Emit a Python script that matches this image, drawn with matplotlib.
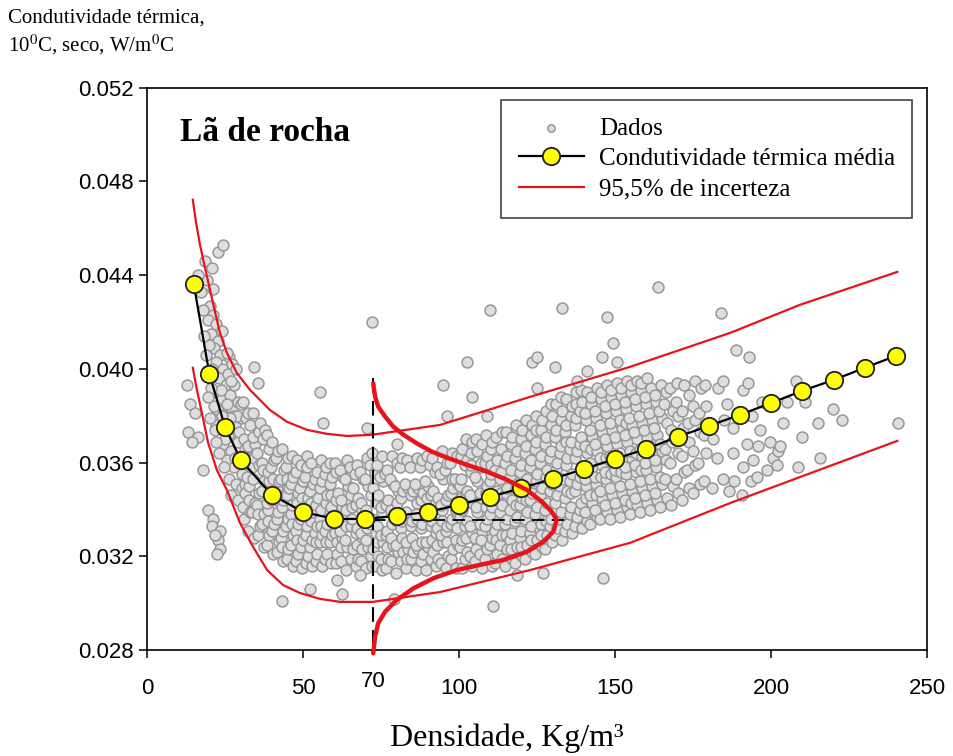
import numpy as np
import matplotlib.pyplot as plt

plt.rcParams['font.family'] = 'Liberation Serif'
plt.rcParams['mathtext.fontset'] = 'stix'

## valores de condutividade em mW/m C (divididos por 1000 no plot)
media_x = [15, 20, 25, 30, 40, 50, 60, 70, 80, 90, 100, 110, 120, 130, 140,
           150, 160, 170, 180, 190, 200, 210, 220, 230, 240]
media_y = [43.63, 39.79, 37.53, 36.12, 34.63, 33.90, 33.60, 33.60, 33.73, 33.90,
           34.20, 34.54, 34.92, 35.31, 35.73, 36.16, 36.59, 37.10, 37.57, 38.04,
           38.55, 39.07, 39.53, 40.05, 40.56]

## limites de 95,5% de incerteza
sup_x = [14.7, 15.7, 17.0, 18.6, 20.2, 21.8, 23.4, 25.6, 28.8, 33.0, 39.4, 44.9,
         51.3, 57.7, 64.1, 72.1, 93.9, 122.8, 154.8, 186.9, 209.3, 240.4]
sup_y = [47.22, 46.28, 45.30, 44.32, 43.38, 42.44, 41.54, 40.69, 39.83, 39.11,
         38.25, 37.74, 37.40, 37.23, 37.14, 37.19, 37.61, 38.81, 40.09, 41.54,
         42.74, 44.14]
inf_x = [14.7, 16.0, 17.6, 19.6, 22.4, 25.6, 29.8, 34.0, 38.5, 43.6, 49.0, 55.4,
         61.9, 72.4, 93.9, 122.8, 154.8, 186.9, 240.4]
inf_y = [40.05, 39.11, 38.13, 36.85, 35.69, 34.84, 33.43, 32.41, 31.42, 30.78,
         30.44, 30.19, 30.06, 30.06, 30.48, 31.42, 32.58, 34.28, 36.93]

## curva de distribuicao em 70 kg/m3 (lida ponto a ponto)
gauss_x = [72.5, 73.1, 74.1, 76.3, 78.9, 82.2, 86.4, 91.3, 96.6, 102.5, 108.9,
           115.3, 121.7, 126.5, 129.7, 131.3, 130.2, 127.0, 121.7, 114.2, 106.7,
           99.3, 91.8, 85.4, 80.0, 76.3, 74.1, 73.1, 72.5]
gauss_y = [39.39, 38.82, 38.39, 37.97, 37.54, 37.19, 36.83, 36.47, 36.19, 35.91,
           35.62, 35.27, 34.84, 34.34, 33.91, 33.56, 33.06, 32.63, 32.20, 31.85,
           31.64, 31.42, 31.07, 30.64, 30.14, 29.64, 29.15, 28.58, 27.87]
dens_ref = 72.4
cond_ref = 33.56

## dados (densidade, condutividade)
dados_a = [
    (12.8, 39.3), (13.8, 38.5), (15.4, 38.1), (13.1, 37.3), (16.3, 37.1), (14.5, 36.9),
    (18.0, 35.7), (19.6, 34.0), (21.2, 33.6), (20.8, 33.3), (23.4, 33.1), (22.8, 32.7),
    (23.4, 32.3), (22.4, 32.1), (21.9, 32.9),
    (18.6, 44.6), (20.8, 44.3), (22.8, 45.0), (24.4, 45.3), (19.2, 43.8), (21.2, 43.4),
    (20.2, 42.7), (21.2, 42.3), (19.6, 42.1), (22.1, 41.9), (20.5, 41.5), (22.8, 41.2),
    (21.5, 40.9), (23.4, 40.6), (22.1, 40.3), (24.4, 40.0), (26.3, 40.5), (27.2, 40.2),
    (19.8, 41.0), (18.9, 40.6), (21.0, 40.0), (23.0, 39.6), (25.2, 39.3), (21.8, 39.0),
    (24.0, 38.7), (26.5, 38.9), (28.0, 39.3), (22.6, 38.3), (25.0, 38.0), (27.3, 38.3),
    (29.2, 38.6), (23.5, 37.5), (26.0, 37.2), (28.3, 37.6), (30.0, 37.9), (24.3, 36.8),
    (26.8, 36.5), (29.1, 36.9), (25.5, 36.1), (27.8, 35.8), (29.8, 36.2), (26.2, 35.3),
    (28.6, 35.1), (24.6, 35.8), (27.0, 34.6), (29.3, 34.4), (30.5, 34.9), (23.8, 39.1),
    (25.9, 39.8), (27.6, 38.0), (24.9, 37.0), (28.9, 38.0), (26.7, 37.9), (23.2, 36.4),
    (25.7, 38.5), (20.4, 39.2), (22.0, 37.6), (17.9, 42.5), (18.4, 41.4), (19.4, 39.9),
    (17.2, 43.3), (16.5, 44.0), (29.6, 37.3), (30.3, 38.5), (28.1, 36.2), (24.1, 41.6),
    (25.6, 40.7), (26.9, 39.5), (28.5, 40.0), (21.4, 38.4), (23.9, 38.0), (22.2, 36.9),
    (19.6, 38.8), (20.2, 37.9), (21.8, 37.4),
]
dados_b = [
    (31.2, 33.6), (30.7, 34.1), (31.5, 35.1), (30.6, 35.5), (31.3, 36.6), (31.0, 37.0), (31.7, 37.9), (30.9, 38.6), (31.4, 34.7),
    (32.4, 33.1), (33.0, 33.9), (32.7, 35.0), (32.2, 35.4), (33.1, 36.2), (32.5, 36.7), (32.9, 37.6), (32.3, 38.1), (32.8, 34.4),
    (34.3, 32.8), (33.8, 33.9), (34.5, 34.3), (34.0, 35.3), (33.7, 35.8), (34.6, 36.8), (34.1, 37.1), (33.9, 38.1), (34.4, 36.2),
    (35.5, 32.9), (36.1, 33.3), (35.4, 34.2), (35.9, 34.7), (36.0, 35.9), (35.3, 36.4), (35.8, 37.3), (36.2, 37.7), (35.6, 33.8),
    (37.4, 32.4), (36.9, 33.4), (37.6, 33.8), (37.0, 34.8), (37.5, 35.2), (36.8, 36.0), (37.3, 37.0), (37.7, 37.4), (37.1, 35.7),
    (38.6, 32.5), (39.1, 32.9), (38.9, 34.0), (38.4, 34.3), (39.2, 35.2), (38.7, 35.6), (39.0, 36.6), (38.5, 37.2), (38.8, 33.5),
    (40.5, 32.1), (40.0, 33.1), (40.6, 33.4), (40.1, 34.4), (40.4, 34.8), (39.9, 35.8), (40.7, 36.1), (40.2, 36.9), (40.3, 35.3),
    (41.7, 32.2), (42.2, 32.6), (41.6, 33.6), (42.1, 33.9), (41.8, 34.9), (42.3, 35.2), (41.5, 36.2), (42.0, 36.5), (41.9, 34.4),
    (43.6, 31.8), (43.1, 32.8), (43.7, 33.1), (43.2, 34.1), (43.5, 34.4), (43.0, 35.3), (43.8, 35.7), (43.3, 36.6), (43.4, 32.4),
    (44.8, 31.9), (45.3, 32.3), (44.7, 33.3), (45.2, 33.6), (44.9, 34.6), (45.4, 34.9), (44.6, 35.8), (45.1, 36.2), (45.0, 35.3),
    (46.7, 31.6), (46.2, 32.5), (46.8, 32.9), (46.3, 33.8), (46.6, 34.2), (46.1, 35.1), (46.9, 35.4), (46.4, 36.3), (46.5, 33.4),
    (47.9, 31.8), (48.4, 32.1), (47.8, 33.1), (48.3, 33.4), (48.0, 34.3), (48.5, 34.7), (47.7, 35.6), (48.2, 36.1), (48.1, 32.7),
    (49.8, 31.5), (49.3, 32.4), (49.9, 32.7), (49.4, 33.6), (49.7, 33.9), (49.2, 34.9), (50.0, 35.2), (49.5, 35.9), (49.6, 34.5),
    (51.0, 31.7), (51.5, 32.0), (50.9, 32.9), (51.4, 33.3), (51.1, 34.2), (51.6, 34.5), (50.8, 35.4), (51.3, 35.8), (51.2, 36.3),
    (52.9, 31.6), (52.4, 32.4), (53.0, 32.7), (52.5, 33.5), (52.8, 33.9), (52.3, 34.8), (53.1, 35.1), (52.6, 36.0), (52.7, 34.3),
    (54.1, 31.8), (54.6, 32.1), (54.0, 33.0), (54.5, 33.3), (54.2, 34.2), (54.7, 34.5), (53.9, 35.3), (54.4, 35.6), (54.3, 32.6),
    (56.0, 31.6), (55.5, 32.6), (56.1, 32.9), (55.6, 33.6), (55.9, 34.0), (55.4, 34.9), (56.2, 35.2), (55.7, 36.1), (55.8, 33.3),
    (57.2, 31.9), (57.7, 32.1), (57.1, 33.1), (57.6, 33.4), (57.3, 34.3), (57.8, 34.6), (57.0, 35.5), (57.5, 35.8), (57.4, 32.6),
    (59.1, 31.7), (58.6, 32.6), (59.2, 32.9), (58.7, 33.9), (59.0, 34.1), (58.5, 35.1), (59.3, 35.4), (58.8, 36.0), (58.9, 34.6),
]
dados_c = [
    (60.6, 31.7), (61.0, 32.1), (60.4, 33.0), (60.9, 33.4), (60.5, 34.4), (61.1, 34.7), (60.7, 35.6), (60.3, 36.0), (60.8, 32.6),
    (62.1, 31.8), (62.6, 32.8), (62.0, 33.1), (62.5, 34.1), (62.2, 34.4), (62.7, 35.4), (61.9, 35.7), (62.3, 32.4),
    (63.7, 31.4), (64.2, 32.4), (63.6, 32.7), (64.1, 33.7), (63.8, 34.0), (64.3, 35.0), (63.5, 35.3), (64.0, 36.1), (63.9, 33.3),
    (65.4, 31.9), (65.9, 32.3), (65.3, 33.3), (65.8, 33.6), (65.5, 34.6), (66.0, 34.9), (65.2, 35.8), (65.7, 34.1),
    (67.0, 31.6), (67.5, 31.9), (66.9, 33.0), (67.4, 33.2), (67.1, 34.2), (67.6, 34.5), (66.8, 35.5), (67.3, 35.9), (67.2, 32.5),
    (68.6, 31.8), (69.1, 32.8), (68.5, 33.0), (69.0, 34.0), (68.7, 34.3), (69.2, 35.3), (68.4, 35.6), (68.8, 32.3),
    (70.2, 31.5), (70.7, 32.4), (70.1, 32.7), (70.6, 33.7), (70.3, 34.0), (70.8, 35.0), (70.0, 35.3), (70.5, 36.2), (70.4, 33.2),
    (71.8, 32.0), (72.3, 32.3), (71.7, 33.4), (72.2, 33.6), (71.9, 34.6), (72.4, 34.9), (71.6, 35.9), (72.1, 36.4), (72.0, 31.6),
    (73.4, 31.6), (73.9, 32.0), (73.3, 33.0), (73.8, 33.3), (73.5, 34.3), (74.0, 34.6), (73.2, 35.6), (73.7, 35.9), (73.6, 32.6),
    (75.0, 31.9), (75.5, 32.6), (74.9, 32.9), (75.4, 33.9), (75.1, 34.1), (75.6, 35.2), (74.8, 35.4), (75.3, 36.3), (75.2, 31.4),
    (76.6, 31.5), (77.1, 31.9), (76.5, 32.9), (77.0, 33.1), (76.7, 34.2), (77.2, 34.4), (76.4, 35.5), (76.9, 35.7), (76.8, 32.4),
    (78.2, 31.8), (78.7, 32.5), (78.1, 32.8), (78.6, 33.8), (78.3, 34.0), (78.8, 35.1), (78.0, 35.3), (78.5, 36.3), (78.4, 33.4),
    (79.8, 31.3), (80.3, 32.2), (79.7, 32.5), (80.2, 33.5), (79.9, 33.7), (80.4, 34.8), (79.6, 35.0), (80.1, 36.0), (80.0, 34.3),
    (81.4, 31.8), (81.9, 32.2), (81.3, 33.2), (81.8, 33.5), (81.5, 34.5), (82.0, 34.8), (81.2, 35.8), (81.7, 36.2), (81.6, 32.8),
    (83.0, 31.5), (83.5, 32.3), (82.9, 32.6), (83.4, 33.6), (83.1, 33.9), (83.6, 34.9), (82.8, 35.1), (83.3, 36.1), (83.2, 31.9),
    (84.6, 31.9), (85.1, 32.2), (84.5, 33.3), (85.0, 33.5), (84.7, 34.6), (85.2, 34.8), (84.4, 35.8), (84.8, 32.8),
    (86.2, 31.4), (86.7, 32.3), (86.1, 32.5), (86.6, 33.6), (86.3, 33.8), (86.8, 34.9), (86.0, 35.1), (86.5, 36.2), (86.4, 34.3),
    (87.8, 31.8), (88.3, 32.1), (87.7, 33.2), (88.2, 33.4), (87.9, 34.4), (88.4, 34.7), (87.6, 35.8), (88.1, 36.1), (88.0, 32.6),
    (89.4, 31.4), (89.9, 32.4), (89.3, 32.6), (89.8, 33.7), (89.5, 33.9), (90.0, 35.0), (89.2, 35.2), (89.7, 36.3), (89.6, 34.5),
    (91.0, 31.9), (91.5, 32.2), (90.9, 33.3), (91.4, 33.5), (91.1, 34.6), (91.6, 34.8), (90.8, 35.9), (91.3, 36.2), (91.2, 32.7),
    (92.6, 31.6), (93.1, 31.9), (92.5, 33.0), (93.0, 33.2), (92.7, 34.3), (93.2, 34.5), (92.4, 35.6), (92.9, 35.8), (92.8, 32.5),
    (94.2, 31.7), (94.7, 32.6), (94.1, 32.9), (94.6, 34.0), (94.3, 34.2), (94.8, 35.3), (94.0, 35.5), (94.5, 36.5), (94.4, 33.5),
    (95.8, 31.5), (96.3, 32.0), (95.7, 33.1), (96.2, 33.3), (95.9, 34.4), (96.4, 34.6), (95.6, 35.7), (96.1, 36.0), (96.0, 32.6),
    (97.4, 31.9), (97.9, 32.3), (97.3, 33.4), (97.8, 33.6), (97.5, 34.7), (98.0, 34.9), (97.2, 36.0), (97.7, 36.4), (97.6, 35.3),
    (99.0, 31.5), (99.5, 32.5), (98.9, 32.7), (99.4, 33.8), (99.1, 34.0), (99.6, 35.1), (98.8, 35.3), (99.3, 36.3), (99.2, 33.2),
]
dados_d = [
    (100.9, 31.5), (100.3, 32.4), (100.8, 32.7), (100.4, 33.7), (101.0, 34.0), (100.2, 35.0), (100.7, 35.3), (100.5, 36.3), (100.9, 36.6), (100.6, 34.5),
    (102.0, 31.9), (102.6, 32.2), (101.9, 33.3), (102.5, 33.5), (102.1, 34.6), (102.7, 34.8), (101.8, 35.9), (102.4, 36.1), (102.2, 37.0), (102.3, 32.8),
    (104.1, 31.6), (103.5, 32.0), (104.0, 33.0), (103.6, 33.3), (104.2, 34.3), (103.4, 34.6), (103.9, 35.6), (103.7, 35.9), (104.3, 36.9), (103.8, 36.4),
    (105.2, 31.8), (105.8, 32.6), (105.1, 32.8), (105.7, 33.9), (105.3, 34.1), (105.9, 35.2), (105.0, 35.4), (105.6, 36.5), (105.4, 37.0), (105.5, 32.3),
    (107.3, 31.5), (106.7, 32.1), (107.2, 33.1), (106.8, 33.4), (107.4, 34.5), (106.6, 34.7), (107.1, 35.8), (106.9, 36.0), (107.5, 36.8), (107.0, 32.7),
    (108.4, 31.9), (109.0, 32.3), (108.3, 33.3), (108.9, 33.6), (108.5, 34.7), (109.1, 35.0), (108.2, 36.0), (108.8, 36.3), (108.6, 37.2), (108.7, 34.1),
    (110.5, 31.6), (109.9, 32.5), (110.4, 32.8), (110.0, 33.8), (110.6, 34.1), (109.8, 35.2), (110.3, 35.5), (110.1, 36.6), (110.7, 36.9), (110.2, 35.9),
    (111.6, 31.7), (112.2, 32.1), (111.5, 33.1), (112.1, 33.4), (111.7, 34.4), (112.3, 34.8), (111.4, 35.7), (112.0, 36.1), (111.8, 37.1), (111.9, 32.7),
    (113.7, 31.9), (113.1, 32.5), (113.6, 32.9), (113.2, 33.9), (113.8, 34.2), (113.0, 35.3), (113.5, 35.6), (113.3, 36.6), (113.9, 37.3), (113.4, 34.7),
    (114.8, 31.6), (115.4, 32.3), (114.7, 33.4), (115.3, 33.6), (114.9, 34.7), (115.5, 34.9), (114.6, 36.0), (115.2, 36.3), (115.0, 37.3), (115.1, 32.9),
    (116.9, 31.9), (116.3, 32.7), (116.8, 33.0), (116.4, 34.0), (117.0, 34.4), (116.2, 35.4), (116.7, 35.7), (116.5, 36.8), (117.1, 37.1), (116.6, 32.3),
    (118.0, 31.7), (118.6, 32.4), (117.9, 33.5), (118.5, 33.7), (118.1, 34.9), (118.7, 35.1), (117.8, 36.2), (118.4, 36.5), (118.2, 37.6), (118.3, 34.2),
    (120.1, 32.0), (119.5, 32.8), (120.0, 33.1), (119.6, 34.2), (120.2, 34.5), (119.4, 35.6), (119.9, 35.9), (119.7, 37.0), (120.3, 37.4), (119.8, 32.4),
    (121.2, 31.9), (121.8, 32.5), (121.1, 33.6), (121.7, 33.9), (121.3, 35.0), (121.9, 35.3), (121.0, 36.4), (121.6, 36.7), (121.4, 37.8), (121.5, 34.4),
    (123.3, 32.2), (122.7, 33.0), (123.2, 33.3), (122.8, 34.4), (123.4, 34.7), (122.6, 35.8), (123.1, 36.1), (122.9, 37.2), (123.5, 37.6), (123.0, 32.7),
    (124.4, 32.1), (125.0, 32.7), (124.3, 33.8), (124.9, 34.1), (124.5, 35.2), (125.1, 35.5), (124.2, 36.6), (124.8, 36.9), (124.6, 38.0), (124.7, 37.4),
    (126.5, 32.4), (125.9, 33.1), (126.4, 33.4), (126.0, 34.6), (126.6, 34.9), (125.8, 36.0), (126.3, 36.3), (126.1, 37.4), (126.7, 37.8), (126.2, 32.9),
    (127.6, 32.3), (128.2, 32.9), (127.5, 34.0), (128.1, 34.3), (127.7, 35.4), (128.3, 35.7), (127.4, 36.8), (128.0, 37.1), (127.8, 38.2), (127.9, 33.5),
    (129.7, 32.6), (129.1, 33.3), (129.6, 33.6), (129.2, 34.8), (129.8, 35.1), (129.0, 36.2), (129.5, 36.5), (129.3, 37.6), (129.9, 38.0), (129.4, 38.5),
    (130.8, 32.9), (131.4, 33.2), (130.7, 34.3), (131.3, 34.6), (130.9, 35.7), (131.5, 36.0), (130.6, 37.1), (131.2, 37.4), (131.0, 38.5), (131.1, 35.2),
    (132.9, 32.7), (132.3, 33.6), (132.8, 33.9), (132.4, 35.0), (133.0, 35.3), (132.2, 36.4), (132.7, 36.7), (132.5, 37.8), (133.1, 38.2), (132.6, 38.8),
    (134.0, 33.1), (134.6, 33.4), (133.9, 34.5), (134.5, 34.8), (134.1, 35.9), (134.7, 36.2), (133.8, 37.3), (134.4, 37.6), (134.2, 38.7), (134.3, 36.9),
    (136.1, 33.0), (135.5, 33.8), (136.0, 34.1), (135.6, 35.2), (136.2, 35.5), (135.4, 36.6), (135.9, 36.9), (135.7, 38.0), (136.3, 38.4), (135.8, 34.7),
    (137.2, 33.3), (137.8, 33.7), (137.1, 34.8), (137.7, 35.1), (137.3, 36.2), (137.9, 36.5), (137.0, 37.6), (137.6, 37.9), (137.4, 39.0), (137.5, 38.5),
    (139.3, 33.2), (138.7, 34.0), (139.2, 34.3), (138.8, 35.4), (139.4, 35.7), (138.6, 36.8), (139.1, 37.1), (138.9, 38.2), (139.5, 38.6), (139.0, 39.1),
]
dados_e = [
    (140.9, 33.5), (140.3, 33.9), (140.8, 35.0), (140.4, 35.3), (141.0, 36.4), (140.2, 36.7), (140.7, 37.8), (140.5, 38.1), (141.1, 39.0), (140.6, 34.5),
    (142.0, 33.4), (142.6, 34.3), (141.9, 34.6), (142.5, 35.8), (142.1, 36.0), (142.7, 37.1), (141.8, 37.4), (142.4, 38.5), (142.2, 38.8), (142.3, 36.6),
    (144.1, 33.7), (143.5, 34.0), (144.0, 35.1), (143.6, 35.4), (144.2, 36.5), (143.4, 36.8), (143.9, 37.9), (143.7, 38.2), (144.3, 39.2), (143.8, 34.6),
    (145.2, 33.6), (145.8, 34.5), (145.1, 34.8), (145.7, 35.9), (145.3, 36.2), (145.9, 37.3), (145.0, 37.6), (145.6, 38.7), (145.4, 39.0), (145.5, 35.4),
    (147.3, 33.9), (146.7, 34.2), (147.2, 35.3), (146.8, 35.6), (147.4, 36.7), (146.6, 37.0), (147.1, 38.1), (146.9, 38.4), (147.5, 39.3), (147.0, 36.2),
    (148.4, 33.6), (149.0, 34.6), (148.3, 34.9), (148.9, 36.0), (148.5, 36.3), (149.1, 37.4), (148.2, 37.7), (148.8, 38.8), (148.6, 39.1), (148.7, 35.5),
    (150.5, 34.0), (149.9, 34.3), (150.4, 35.4), (150.0, 35.7), (150.6, 36.8), (149.8, 37.1), (150.3, 38.2), (150.1, 38.5), (150.7, 39.4), (150.2, 36.3),
    (151.6, 33.7), (152.2, 34.7), (151.5, 35.0), (152.1, 36.1), (151.7, 36.4), (152.3, 37.5), (151.4, 37.8), (152.0, 38.9), (151.8, 39.2), (151.9, 35.6),
    (153.7, 34.1), (153.1, 34.4), (153.6, 35.5), (153.2, 35.8), (153.8, 36.9), (153.0, 37.2), (153.5, 38.3), (153.3, 38.6), (153.9, 39.5), (153.4, 37.7),
    (154.8, 33.8), (155.4, 34.8), (154.7, 35.1), (155.3, 36.2), (154.9, 36.5), (155.5, 37.6), (154.6, 37.9), (155.2, 39.0), (155.0, 39.3), (155.1, 34.3),
    (156.9, 34.2), (156.3, 34.5), (156.8, 35.6), (156.4, 35.9), (157.0, 37.0), (156.2, 37.3), (156.7, 38.4), (156.5, 38.7), (157.1, 39.5), (156.6, 36.4),
    (158.0, 33.9), (158.6, 34.9), (157.9, 35.2), (158.5, 36.3), (158.1, 36.6), (158.7, 37.7), (157.8, 38.0), (158.4, 39.1), (158.2, 39.4), (158.3, 35.7),
    (160.1, 34.3), (159.5, 34.6), (160.0, 35.7), (159.6, 36.0), (160.2, 37.1), (159.4, 37.4), (159.9, 38.5), (159.7, 38.8), (160.3, 39.6),
    (161.2, 34.0), (161.8, 35.0), (161.1, 35.3), (161.7, 36.4), (161.3, 36.7), (161.9, 37.8), (161.0, 38.1), (161.6, 39.2),
    (163.3, 34.4), (162.7, 34.7), (163.2, 35.8), (162.8, 36.1), (163.4, 37.2), (162.6, 37.5), (163.1, 38.6), (162.9, 38.9),
    (164.4, 34.1), (165.0, 35.1), (164.3, 35.4), (164.9, 36.5), (164.5, 36.8), (165.1, 37.9), (164.2, 38.2), (164.8, 39.3),
    (166.5, 34.5), (165.9, 35.3), (166.4, 36.1), (166.0, 36.6), (166.6, 37.7), (165.8, 38.5), (166.3, 39.0),
    (167.8, 34.2), (168.4, 35.0), (167.7, 36.0), (168.3, 36.9), (167.9, 37.4), (168.5, 38.2), (167.6, 39.2),
    (170.1, 34.7), (169.5, 35.3), (170.0, 36.4), (169.6, 37.0), (170.2, 38.0), (169.4, 38.6), (169.9, 39.4),
    (171.4, 34.4), (172.0, 35.6), (171.3, 36.3), (171.9, 37.5), (171.5, 38.2), (172.1, 39.3),
    (173.7, 34.9), (173.1, 35.7), (173.6, 36.9), (173.2, 37.7), (173.8, 38.9),
    (175.0, 34.7), (175.6, 35.9), (174.9, 36.5), (175.5, 37.8), (175.1, 38.4), (175.7, 39.5),
    (177.3, 35.1), (176.7, 36.0), (177.2, 37.3), (176.8, 38.1), (177.4, 39.2),
    (178.6, 35.2), (179.2, 36.4), (178.5, 37.2), (179.1, 38.4), (178.7, 39.3),
]
dados_f = [
    (181.0, 34.9), (182.5, 36.2), (181.5, 37.0), (183.0, 39.2), (184.6, 39.5), (185.9, 38.5),
    (184.6, 35.3), (185.0, 37.8), (186.5, 34.8), (187.8, 36.4), (187.8, 37.5), (188.0, 35.2),
    (189.5, 38.0), (190.7, 34.6), (191.0, 35.8), (191.0, 39.1), (192.6, 39.4), (192.3, 36.8),
    (193.5, 35.2), (194.2, 36.1), (194.0, 38.0), (195.5, 35.4), (195.8, 36.7), (196.5, 37.4),
    (197.0, 38.6), (198.7, 35.7), (199.5, 36.9), (200.6, 36.2), (201.9, 35.9), (202.2, 36.5),
    (202.9, 36.7), (203.8, 37.7), (205.0, 38.6), (208.0, 39.5), (208.7, 35.8), (209.9, 37.1),
    (210.9, 38.6), (215.0, 37.7), (215.7, 36.2), (219.9, 38.3), (222.8, 37.8), (240.7, 37.7),
    (184.0, 42.4), (188.8, 40.8), (192.9, 40.5),
]
dados_isolados = [
    (34.3, 40.1), (35.6, 39.4), (43.3, 30.1), (52.2, 30.6), (55.4, 39.0), (56.4, 37.7),
    (60.9, 31.0), (62.5, 30.4), (68.3, 31.2), (70.5, 37.5), (72.1, 42.0), (80.1, 36.8),
    (79.2, 30.2), (94.9, 39.3), (96.2, 38.0), (102.6, 40.3), (104.2, 38.8), (109.0, 38.0),
    (109.9, 42.5), (110.9, 29.9), (118.6, 31.2), (123.4, 40.3), (125.0, 40.5), (125.0, 39.2),
    (126.9, 31.3), (130.8, 40.1), (133.0, 42.6), (137.8, 39.5), (141.0, 39.9), (145.8, 40.5),
    (146.2, 31.1), (147.4, 42.2), (149.4, 41.1), (150.6, 40.3), (163.8, 43.5),
]

todos = dados_a + dados_b + dados_c + dados_d + dados_e + dados_f + dados_isolados
dados_x = np.array([p[0] for p in todos])
dados_y = np.array([p[1] for p in todos]) / 1000

fig = plt.figure(figsize=(9.54, 7.56), dpi=100)
ax = fig.add_axes([0.154, 0.140, 0.818, 0.744])

ax.scatter(dados_x, dados_y, s=62, facecolor="#dedede", edgecolor="#989898",
           linewidth=1.1, zorder=2, label="Dados")

ax.plot(sup_x, np.array(sup_y) / 1000, color="#e8141c", lw=1.6, zorder=3,
        label="95,5% de incerteza")
ax.plot(inf_x, np.array(inf_y) / 1000, color="#e8141c", lw=1.6, zorder=3)

## linhas de referencia tracejadas
ax.plot([dens_ref, dens_ref], [0.0396, 0.0278], color="black", lw=1.5,
        dashes=(7, 4), zorder=5, clip_on=False)
ax.plot([dens_ref, 135], [cond_ref / 1000, cond_ref / 1000], color="black",
        lw=1.3, dashes=(7, 4), zorder=5)

ax.plot(media_x, np.array(media_y) / 1000, color="black", lw=1.6, marker="o",
        markersize=12.5, markerfacecolor="#ffff00", markeredgecolor="#222222",
        markeredgewidth=1.3, zorder=6, label="Condutividade térmica média")

ax.plot(gauss_x, np.array(gauss_y) / 1000, color="#e8141c", lw=3.2, zorder=7,
        clip_on=False, solid_capstyle="round", solid_joinstyle="round")

ax.set_xlim(0, 250)
ax.set_ylim(0.028, 0.052)
ax.set_xticks([0, 50, 100, 150, 200, 250])
ax.set_yticks(np.arange(0.028, 0.0521, 0.004))
ax.set_yticklabels([f"{v:.3f}" for v in np.arange(0.028, 0.0521, 0.004)])
ax.tick_params(direction="out", length=6, width=1.1, labelsize=16)
ax.tick_params(axis="x", pad=14)
for lab in ax.get_xticklabels() + ax.get_yticklabels():
    lab.set_fontfamily("Liberation Sans")
for sp in ax.spines.values():
    sp.set_linewidth(1.2)

ax.text(dens_ref, -0.055, "70", transform=ax.get_xaxis_transform(),
        ha="center", va="center", fontsize=16, family="Liberation Sans")

ax.text(0.042, 0.92, "Lã de rocha", transform=ax.transAxes, fontsize=24,
        fontweight="bold", va="center", ha="left")

h, l = ax.get_legend_handles_labels()
by_label = dict(zip(l, h))
ordem = ["Dados", "Condutividade térmica média", "95,5% de incerteza"]
leg = ax.legend([by_label[k] for k in ordem], ordem, loc="upper right",
                bbox_to_anchor=(0.981, 0.979), borderaxespad=0, fontsize=18,
                frameon=True, fancybox=False, edgecolor="#444444",
                framealpha=1, numpoints=1, scatterpoints=1, handlelength=2.6,
                handletextpad=0.6, labelspacing=0.32, borderpad=0.7)
leg.get_frame().set_linewidth(1.2)
for hd in leg.legend_handles:
    if hasattr(hd, "set_sizes"):
        hd.set_sizes([28.0])

fig.text(8 / 954, 1 - 18 / 756, "Condutividade térmica,", fontsize=15,
         ha="left", va="center")
fig.text(8 / 954, 1 - 45 / 756, r"10$^{0}$C, seco, W/m$^{0}$C", fontsize=15,
         ha="left", va="center")
fig.text(507 / 954, 1 - 738 / 756, "Densidade, Kg/m³", fontsize=23,
         ha="center", va="center")

fig.savefig("out.png", dpi=100)
